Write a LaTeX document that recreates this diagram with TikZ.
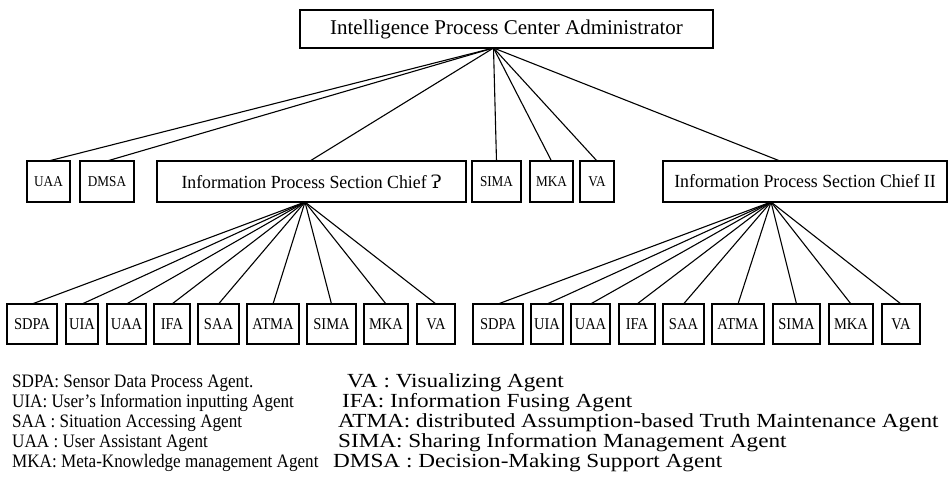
\documentclass[tikz,border=0pt]{standalone}
\usepackage{graphicx}
\usepackage{fontspec}
\setmainfont{Liberation Serif}
\newfontfamily\dejavu{DejaVu Serif}
\newcommand{\wide}[1]{\scalebox{1.16}[1]{#1}}
\newcommand{\narrowtxt}[1]{\scalebox{0.9}[1]{#1}}
\newcommand{\boxtxt}[1]{\scalebox{0.88}[1]{#1}}
\begin{document}
\begin{tikzpicture}[x=1pt,y=-1pt,
  box/.style={draw,line width=1.3pt,inner sep=0pt,outer sep=0pt,align=center},
  sbox/.style={box,minimum height=40pt,font=\fontsize{16.5}{17}\selectfont},
  mbox/.style={box,minimum height=41pt,font=\fontsize{15}{16}\selectfont},
  cbox/.style={box,minimum height=41pt,font=\fontsize{18.5}{20}\selectfont},
  link/.style={line width=1.1pt},
  legend/.style={anchor=base west,inner sep=0pt,font=\fontsize{19}{20}\selectfont},
  legendr/.style={legend,font=\fontsize{20}{20}\selectfont}]
\useasboundingbox (0,0) rectangle (952,477);
% top
\node[box,minimum width=413pt,minimum height=38pt,font=\fontsize{21}{22}\selectfont] (top) at (506.5,29) {Intelligence Process Center Administrator};
% middle row
\node[mbox,minimum width=43pt] (muaa) at (48.5,181.5) {\boxtxt{UAA}};
\node[mbox,minimum width=54pt] (mdmsa) at (107,181.5) {\boxtxt{DMSA}};
\node[cbox,minimum width=309pt] (c1) at (311.5,181.5) {\scalebox{0.96}[1]{Information Process Section Chief {\dejavu Ɂ}}};
\node[mbox,minimum width=49pt] (msima) at (496.5,181.5) {\boxtxt{SIMA}};
\node[mbox,minimum width=43pt] (mmka) at (551.5,181.5) {\boxtxt{MKA}};
\node[mbox,minimum width=34pt] (mva) at (597,181.5) {\boxtxt{VA}};
\node[cbox,minimum width=284pt] (c2) at (805,181.5) {\scalebox{0.96}[1]{Information Process Section Chief II}};
% bottom left
\node[sbox,minimum width=50pt] (a1) at (32,324) {\boxtxt{SDPA}};
\node[sbox,minimum width=32pt] (a2) at (82,324) {\boxtxt{UIA}};
\node[sbox,minimum width=39pt] (a3) at (126.5,324) {\boxtxt{UAA}};
\node[sbox,minimum width=36pt] (a4) at (172,324) {\boxtxt{IFA}};
\node[sbox,minimum width=41pt] (a5) at (218.5,324) {\boxtxt{SAA}};
\node[sbox,minimum width=52pt] (a6) at (273,324) {\boxtxt{ATMA}};
\node[sbox,minimum width=49pt] (a7) at (331.5,324) {\boxtxt{SIMA}};
\node[sbox,minimum width=44pt] (a8) at (386,324) {\boxtxt{MKA}};
\node[sbox,minimum width=38pt] (a9) at (436,324) {\boxtxt{VA}};
% bottom right
\node[sbox,minimum width=50pt] (b1) at (498,324) {\boxtxt{SDPA}};
\node[sbox,minimum width=32pt] (b2) at (547,324) {\boxtxt{UIA}};
\node[sbox,minimum width=39pt] (b3) at (590.5,324) {\boxtxt{UAA}};
\node[sbox,minimum width=36pt] (b4) at (637,324) {\boxtxt{IFA}};
\node[sbox,minimum width=41pt] (b5) at (683.5,324) {\boxtxt{SAA}};
\node[sbox,minimum width=52pt] (b6) at (738,324) {\boxtxt{ATMA}};
\node[sbox,minimum width=47pt] (b7) at (796.5,324) {\boxtxt{SIMA}};
\node[sbox,minimum width=44pt] (b8) at (851,324) {\boxtxt{MKA}};
\node[sbox,minimum width=38pt] (b9) at (901,324) {\boxtxt{VA}};
% connectors
\coordinate (tp) at ([xshift=-13pt]top.south);
\foreach \n in {muaa,mdmsa,msima,mmka,mva} \draw[link] (tp) -- (\n.north);
\draw[link] (tp) -- ([xshift=-1.5pt]c1.north);
\draw[link] (tp) -- ([xshift=-25pt]c2.north);
\coordinate (p1) at ([xshift=-6.5pt]c1.south);
\foreach \n in {a1,a2,a3,a4,a5,a6,a7,a8,a9} \draw[link] (p1) -- (\n.north);
\coordinate (p2) at ([xshift=-34pt]c2.south);
\foreach \n in {b1,b2,b3,b4,b5,b6,b7,b8,b9} \draw[link] (p2) -- (\n.north);
% legend
\node[legend] (l1) at (12,387) {\narrowtxt{SDPA: Sensor Data Process Agent.}};
\node[legend] (l2) at (12,407) {\narrowtxt{UIA: User’s Information inputting Agent}};
\node[legend] (l3) at (12,427) {\narrowtxt{SAA : Situation Accessing Agent}};
\node[legend] (l4) at (12,447) {\narrowtxt{UAA : User Assistant Agent}};
\node[legend] (l5) at (12,467) {\narrowtxt{MKA: Meta-Knowledge management Agent}};
\node[legendr] (r1) at (347,387) {\wide{VA : Visualizing Agent}};
\node[legendr] (r2) at (342,407) {\wide{IFA: Information Fusing Agent}};
\node[legendr] (r3) at (338,427) {\wide{ATMA: distributed Assumption-based Truth Maintenance Agent}};
\node[legendr] (r4) at (338,447) {\wide{SIMA: Sharing Information Management Agent}};
\node[legendr] (r5) at (333,467) {\wide{DMSA : Decision-Making Support Agent}};
\end{tikzpicture}
\end{document}
